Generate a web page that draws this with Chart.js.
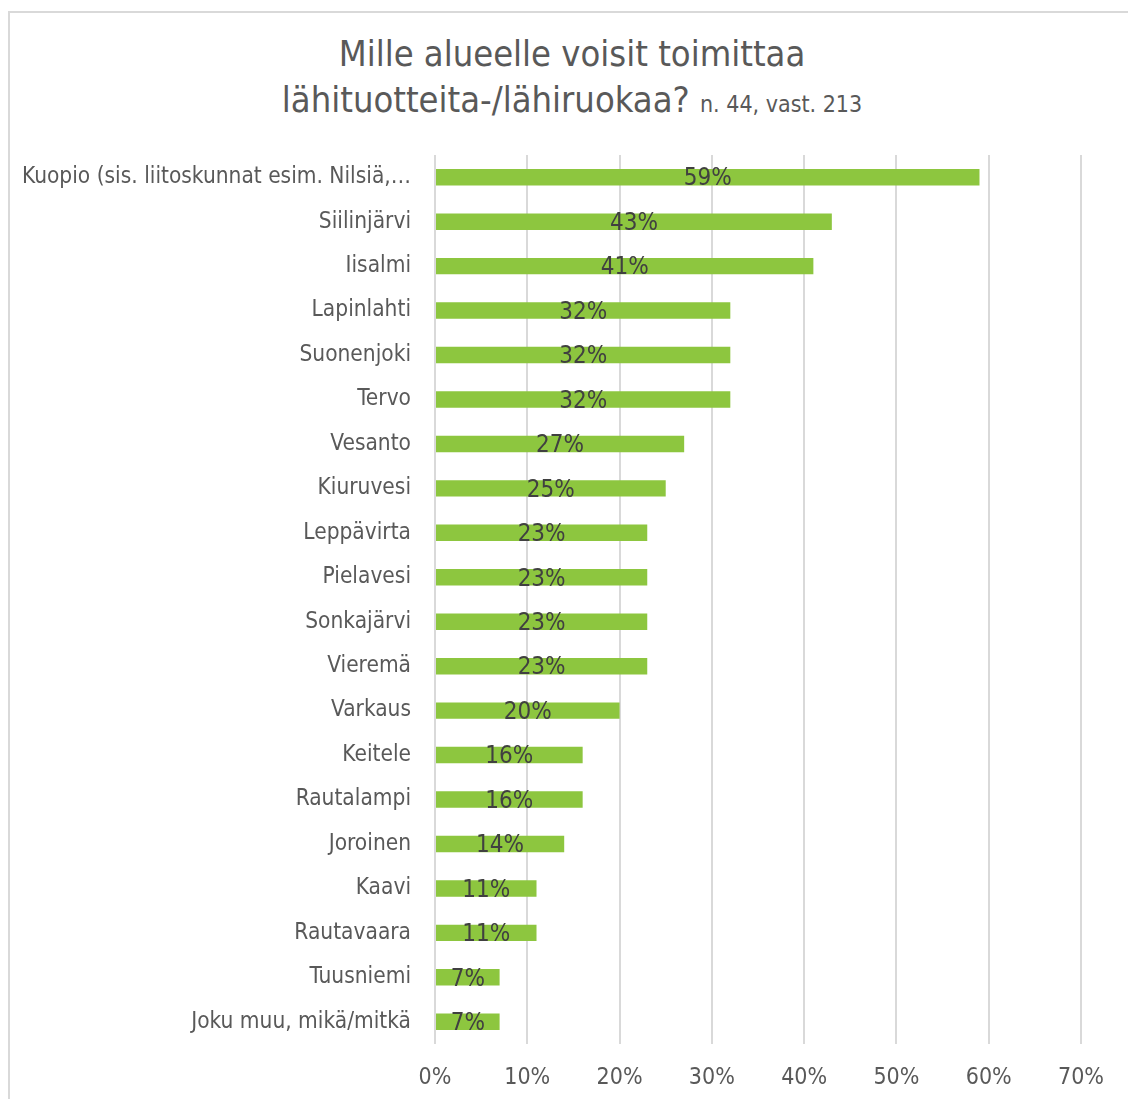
<!DOCTYPE html>
<html>
<head>
<meta charset="utf-8">
<script src="https://cdn.jsdelivr.net/npm/chart.js@4/dist/chart.umd.min.js"></script>
<style>
    body { margin: 0; background: #fff; overflow: hidden; }
    #frame {
        position: absolute; left: 8px; top: 11px; width: 1200px; height: 1200px;
        border-left: 2px solid #d9d9d9; border-top: 2px solid #d9d9d9;
    }
    #title {
        position: absolute; left: 8px; top: 31px; width: 1128px; text-align: center;
        font-family: 'DejaVu Sans Condensed', 'DejaVu Sans', sans-serif;
        font-size: 36px; line-height: 46px; color: #595959;
    }
    #title small { font-size: 23px; }
    #myChart { position: absolute; left: 0; top: 0; }
</style>
</head>
<body>
<div id="frame"></div>
<div id="title">Mille alueelle voisit toimittaa<br>lähituotteita-/lähiruokaa? <small>n. 44, vast. 213</small></div>
<canvas id="myChart" width="1128" height="1099"></canvas>
<script>
const fontFamily = "'DejaVu Sans Condensed', 'DejaVu Sans', sans-serif"

const areas = [
    'Kuopio (sis. liitoskunnat esim. Nilsiä,…',
    'Siilinjärvi',
    'Iisalmi',
    'Lapinlahti',
    'Suonenjoki',
    'Tervo',
    'Vesanto',
    'Kiuruvesi',
    'Leppävirta',
    'Pielavesi',
    'Sonkajärvi',
    'Vieremä',
    'Varkaus',
    'Keitele',
    'Rautalampi',
    'Joroinen',
    'Kaavi',
    'Rautavaara',
    'Tuusniemi',
    'Joku muu, mikä/mitkä'
]
const shares = [59, 43, 41, 32, 32, 32, 27, 25, 23, 23, 23, 23, 20, 16, 16, 14, 11, 11, 7, 7]
const xTicks = [0, 10, 20, 30, 40, 50, 60, 70]

// labels in the middle of each bar
const barLabels = {
    id: 'barLabels',
    afterDatasetsDraw: (chart) => {
        const ctx = chart.ctx
        const meta = chart.getDatasetMeta(0)
        ctx.save()
        ctx.font = '24px ' + fontFamily
        ctx.fillStyle = '#404040'
        ctx.textAlign = 'center'
        ctx.textBaseline = 'middle'
        meta.data.forEach((bar, i) => {
            ctx.fillText(shares[i] + '%', (bar.base + bar.x) / 2, bar.y + 2)
        })
        ctx.restore()
    }
}

const config = {
    type: 'bar',
    data: {
        labels: areas,
        datasets: [{
            data: shares,
            backgroundColor: '#8dc63f',
            borderWidth: 0,
            barPercentage: 0.37,
            categoryPercentage: 1
        }]
    },
    options: {
        indexAxis: 'y',
        responsive: false,
        devicePixelRatio: 1,
        animation: false,
        layout: { padding: { top: 155, right: 47, bottom: 0, left: 0 } },
        plugins: {
            legend: { display: false },
            title: { display: false },
            tooltip: { enabled: false }
        },
        scales: {
            x: {
                min: 0,
                max: 70,
                afterBuildTicks: (scale) => {
                    scale.ticks = xTicks.map(v => ({ value: v }))
                },
                afterFit: (scale) => { scale.height = 55 },
                grid: { color: '#d9d9d9', lineWidth: 2, drawTicks: false },
                border: { display: false },
                ticks: {
                    padding: 20,
                    color: '#595959',
                    font: { family: fontFamily, size: 23 },
                    callback: (v) => v + '%'
                }
            },
            y: {
                afterFit: (scale) => { scale.width = 435 },
                grid: { display: false, drawTicks: false },
                border: { display: false },
                ticks: {
                    padding: 24,
                    color: '#595959',
                    font: { family: fontFamily, size: 22.5 }
                }
            }
        }
    },
    plugins: [barLabels]
}

let chartCanvas = new Chart(document.querySelector('#myChart'), config)
</script>
</body>
</html>
